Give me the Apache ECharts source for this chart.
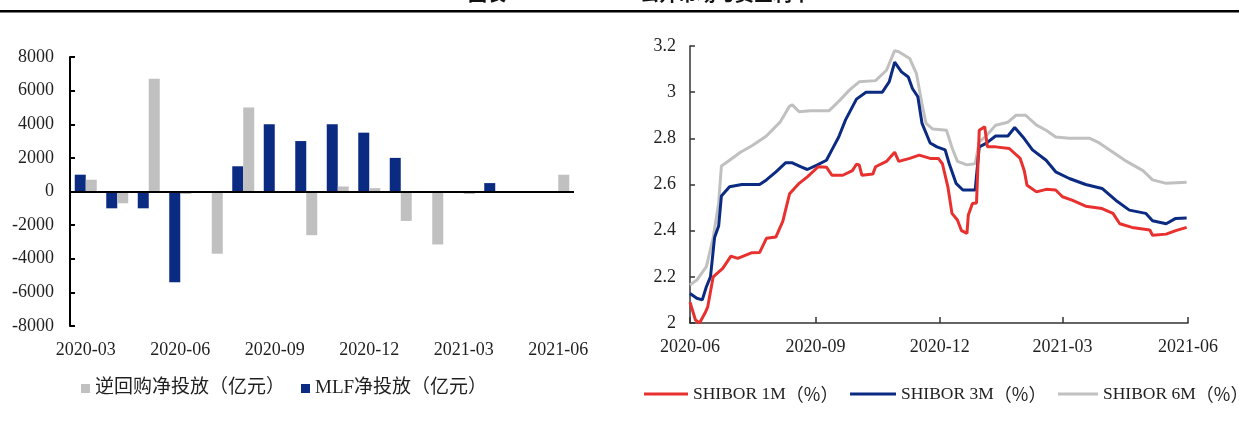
<!DOCTYPE html>
<html>
<head>
<meta charset="utf-8">
<script src="https://cdn.jsdelivr.net/npm/echarts@6/dist/echarts.min.js"></script>
<style>
  html, body { margin: 0; padding: 0; background: #ffffff; }
  #chart { width: 1239px; height: 426px; }
</style>
</head>
<body>
<div id="chart"></div>
<script>
// ---- Open-market net injection, monthly (100 million yuan) ----
const months = ['2020-03', '2020-04', '2020-05', '2020-06', '2020-07', '2020-08', '2020-09', '2020-10',
                '2020-11', '2020-12', '2021-01', '2021-02', '2021-03', '2021-04', '2021-05', '2021-06'];
const mlfNet =         [1000, -1000, -1000, -5400,     0, 1500, 4000,  3000, 4000, 3500,  2000,     0,    0, 500, 0,    0];
const reverseRepoNet = [ 700,  -700,  6700,  -150, -3700, 5000,    0, -2600,  300,  200, -1750, -3150, -150,   0, 0, 1000];

// ---- SHIBOR rates (%) ----
const shibor1mDates = ['2020-06-01','2020-06-05','2020-06-08','2020-06-12','2020-06-14','2020-06-18','2020-06-25',
  '2020-07-01','2020-07-06','2020-07-16','2020-07-22','2020-07-27','2020-08-03','2020-08-08','2020-08-13',
  '2020-08-20','2020-08-26','2020-09-03','2020-09-09','2020-09-13','2020-09-21','2020-09-28','2020-10-01',
  '2020-10-03','2020-10-05','2020-10-13','2020-10-15','2020-10-23','2020-10-29','2020-11-01','2020-11-09',
  '2020-11-16','2020-11-24','2020-11-30','2020-12-03','2020-12-07','2020-12-10','2020-12-14','2020-12-17',
  '2020-12-21','2020-12-22','2020-12-25','2020-12-28','2020-12-30','2021-01-03','2021-01-05','2021-01-11',
  '2021-01-21','2021-01-29','2021-02-01','2021-02-03','2021-02-10','2021-02-17','2021-02-24','2021-03-01',
  '2021-03-08','2021-03-18','2021-03-30','2021-04-07','2021-04-12','2021-04-21','2021-05-04','2021-05-06',
  '2021-05-16','2021-05-23','2021-05-31'];
const shibor1mValues = [2.09, 2.013, 2.00, 2.043, 2.07, 2.20, 2.237,
  2.29, 2.28, 2.304, 2.305, 2.367, 2.373, 2.44, 2.56,
  2.605, 2.633, 2.677, 2.675, 2.64, 2.64, 2.66, 2.688,
  2.685, 2.64, 2.645, 2.677, 2.70, 2.74, 2.70, 2.713,
  2.727, 2.713, 2.713, 2.69, 2.59, 2.475, 2.446, 2.40,
  2.388, 2.468, 2.518, 2.52, 2.835, 2.85, 2.763, 2.763,
  2.756, 2.713, 2.66, 2.597, 2.568, 2.579, 2.576, 2.547,
  2.532, 2.506, 2.496, 2.475, 2.43, 2.414, 2.403, 2.38,
  2.385, 2.40, 2.414];

const shibor3mDates = ['2020-06-01','2020-06-06','2020-06-10','2020-06-13','2020-06-16','2020-06-19','2020-06-22',
  '2020-06-24','2020-06-30','2020-07-09','2020-07-22','2020-07-27','2020-08-03','2020-08-10','2020-08-15',
  '2020-08-21','2020-08-26','2020-09-02','2020-09-09','2020-09-13','2020-09-18','2020-09-23','2020-10-01',
  '2020-10-08','2020-10-20','2020-10-25','2020-10-29','2020-11-03','2020-11-08','2020-11-11','2020-11-15',
  '2020-11-18','2020-11-24','2020-11-29','2020-12-05','2020-12-08','2020-12-13','2020-12-18','2020-12-27',
  '2020-12-30','2021-01-04','2021-01-11','2021-01-20','2021-01-25','2021-01-31','2021-02-07','2021-02-17',
  '2021-02-24','2021-03-06','2021-03-18','2021-03-30','2021-04-09','2021-04-19','2021-05-01','2021-05-06',
  '2021-05-16','2021-05-23','2021-05-31'];
const shibor3mValues = [2.128, 2.107, 2.10, 2.157, 2.20, 2.37, 2.42,
  2.55, 2.59, 2.60, 2.60, 2.62, 2.655, 2.694, 2.694,
  2.677, 2.665, 2.684, 2.705, 2.75, 2.806, 2.88, 2.97,
  3.00, 3.00, 3.045, 3.13, 3.088, 3.066, 3.016, 2.98,
  2.866, 2.78, 2.763, 2.75, 2.69, 2.605, 2.576, 2.576,
  2.763, 2.778, 2.81, 2.81, 2.847, 2.806, 2.75, 2.705,
  2.655, 2.626, 2.60, 2.583, 2.532, 2.489, 2.475, 2.443,
  2.43, 2.453, 2.455];

const shibor6mDates = ['2020-06-01','2020-06-06','2020-06-13','2020-06-18','2020-06-22','2020-06-24','2020-06-30',
  '2020-07-08','2020-07-17','2020-07-27','2020-08-06','2020-08-13','2020-08-15','2020-08-20','2020-08-28',
  '2020-09-11','2020-09-18','2020-09-26','2020-10-03','2020-10-15','2020-10-23','2020-10-29','2020-11-01',
  '2020-11-09','2020-11-14','2020-11-18','2020-11-21','2020-11-26','2020-12-06','2020-12-10','2020-12-14',
  '2020-12-21','2020-12-27','2020-12-30','2021-01-04','2021-01-11','2021-01-20','2021-01-26','2021-02-02',
  '2021-02-10','2021-02-17','2021-02-24','2021-03-06','2021-03-21','2021-03-28','2021-04-07','2021-04-17',
  '2021-04-29','2021-05-06','2021-05-16','2021-05-31'];
const shibor6mValues = [2.165, 2.186, 2.244, 2.37, 2.52, 2.68, 2.705,
  2.74, 2.77, 2.81, 2.87, 2.94, 2.945, 2.915, 2.92,
  2.92, 2.96, 3.01, 3.045, 3.05, 3.095, 3.18, 3.175,
  3.146, 3.08, 2.95, 2.865, 2.84, 2.835, 2.76, 2.70,
  2.685, 2.69, 2.785, 2.81, 2.857, 2.87, 2.90, 2.90,
  2.857, 2.835, 2.806, 2.80, 2.80, 2.78, 2.74, 2.70,
  2.66, 2.62, 2.605, 2.61];

// quarterly ticks of the rate chart's date axis
const rateAxisTicks = ['2020-06-01', '2020-09-01', '2020-12-01', '2021-03-01', '2021-06-01'];

const SERIF = '"Liberation Serif", "Times New Roman", "Noto Sans CJK SC", serif';
const CJK = '"Noto Sans CJK SC", sans-serif';
const TEXT = '#1f1f1f';
const NAVY = '#0b2a82';
const GRAY = '#c0c0c0';
const RED = '#e8312f';

const toTime = d => echarts.number.parseDate(d).getTime();
const toPairs = (dates, values) => dates.map((d, i) => [toTime(d), values[i]]);
const tickTimes = rateAxisTicks.map(toTime);

const chart = echarts.init(document.getElementById('chart'), null, { renderer: 'canvas' });

const barLegendText = { fontFamily: SERIF, fontSize: 19, color: TEXT };
// rate legend: Latin part in serif, the full-width "（%）" in the CJK face
const rateLegendText = {
  color: TEXT,
  rich: {
    a: { fontFamily: SERIF, fontSize: 17.5, color: TEXT },
    b: { fontFamily: CJK, fontSize: 18, color: TEXT }
  }
};
const rateLegendFormatter = name => {
  const i = name.indexOf('（');
  return '{a|' + name.slice(0, i) + '}{b|' + name.slice(i) + '}';
};

chart.setOption({
  animation: false,
  backgroundColor: '#ffffff',
  graphic: [
    { type: 'rect', left: 0, top: 10, shape: { width: 1239, height: 2.5 }, style: { fill: '#000' } },
    { type: 'text', left: 468, top: -16, style: { text: '图表', font: 'bold 19px "Noto Sans CJK SC"', fill: '#111' } },
    { type: 'text', left: 640, top: -16, style: { text: '公开市场与资金利率', font: 'bold 19px "Noto Sans CJK SC"', fill: '#111' } }
  ],
  legend: [
    { left: 76, top: 374, icon: 'rect', itemWidth: 9, itemHeight: 9, itemGap: 0, textStyle: barLegendText,
      data: ['逆回购净投放（亿元）'] },
    { left: 296, top: 374, icon: 'rect', itemWidth: 9, itemHeight: 9, itemGap: 0, textStyle: barLegendText,
      data: ['MLF净投放（亿元）'] },
    { left: 639, top: 380, icon: 'rect', itemWidth: 44, itemHeight: 3, itemGap: 0,
      textStyle: rateLegendText, formatter: rateLegendFormatter, data: ['SHIBOR 1M（%）'] },
    { left: 845, top: 380, icon: 'rect', itemWidth: 46, itemHeight: 3, itemGap: 0,
      textStyle: rateLegendText, formatter: rateLegendFormatter, data: ['SHIBOR 3M（%）'] },
    { left: 1053, top: 380, icon: 'rect', itemWidth: 40, itemHeight: 3, itemGap: 0,
      textStyle: rateLegendText, formatter: rateLegendFormatter, data: ['SHIBOR 6M（%）'] }
  ],
  grid: [
    { left: 70, right: 665, top: 57, bottom: 100 },
    { left: 690, right: 51, top: 46, bottom: 103 }
  ],
  xAxis: [
    {
      type: 'category', gridIndex: 0, data: months,
      axisLine: { show: false }, axisTick: { show: false },
      axisLabel: { interval: 2, margin: 15, fontFamily: SERIF, fontSize: 18, color: TEXT },
      splitLine: { show: false }
    },
    {
      type: 'value', gridIndex: 1, min: tickTimes[0], max: tickTimes[tickTimes.length - 1],
      axisLine: { show: true, lineStyle: { color: '#333', width: 1.5 } },
      axisTick: { show: true, inside: true, length: 6, customValues: tickTimes, lineStyle: { color: '#333', width: 1.5 } },
      axisLabel: {
        customValues: tickTimes, margin: 15, fontFamily: SERIF, fontSize: 18, color: TEXT,
        formatter: v => echarts.time.format(v, '{yyyy}-{MM}', false)
      },
      splitLine: { show: false }
    }
  ],
  yAxis: [
    {
      type: 'value', gridIndex: 0, min: -8000, max: 8000, interval: 2000,
      axisLine: { show: true, lineStyle: { color: '#000', width: 2 } },
      axisTick: { show: true, inside: true, length: 5, lineStyle: { color: '#000', width: 2 } },
      axisLabel: { margin: 16, fontFamily: SERIF, fontSize: 18, color: TEXT, formatter: v => String(v) },
      splitLine: { show: false }
    },
    {
      type: 'value', gridIndex: 1, min: 2, max: 3.2, interval: 0.2,
      axisLine: { show: true, lineStyle: { color: '#333', width: 1.5 } },
      axisTick: { show: true, inside: true, length: 5, lineStyle: { color: '#333', width: 1.5 } },
      axisLabel: { margin: 14, fontFamily: SERIF, fontSize: 18, color: TEXT },
      splitLine: { show: false }
    }
  ],
  series: [
    {
      name: 'MLF净投放（亿元）', type: 'bar', xAxisIndex: 0, yAxisIndex: 0,
      data: mlfNet, barWidth: 11, barGap: '0%', itemStyle: { color: NAVY },
      markLine: {
        silent: true, symbol: ['none', 'none'], label: { show: false },
        lineStyle: { color: '#000', width: 2, type: 'solid' },
        data: [{ yAxis: 0 }]
      }
    },
    {
      name: '逆回购净投放（亿元）', type: 'bar', xAxisIndex: 0, yAxisIndex: 0,
      data: reverseRepoNet, barWidth: 11, barGap: '0%', itemStyle: { color: GRAY }
    },
    {
      name: 'SHIBOR 6M（%）', type: 'line', xAxisIndex: 1, yAxisIndex: 1,
      data: toPairs(shibor6mDates, shibor6mValues), showSymbol: false, symbol: 'none',
      lineStyle: { color: GRAY, width: 3 }, itemStyle: { color: GRAY }
    },
    {
      name: 'SHIBOR 3M（%）', type: 'line', xAxisIndex: 1, yAxisIndex: 1,
      data: toPairs(shibor3mDates, shibor3mValues), showSymbol: false, symbol: 'none',
      lineStyle: { color: NAVY, width: 3 }, itemStyle: { color: NAVY }
    },
    {
      name: 'SHIBOR 1M（%）', type: 'line', xAxisIndex: 1, yAxisIndex: 1,
      data: toPairs(shibor1mDates, shibor1mValues), showSymbol: false, symbol: 'none',
      lineStyle: { color: RED, width: 3 }, itemStyle: { color: RED }
    }
  ]
});
</script>
</body>
</html>
